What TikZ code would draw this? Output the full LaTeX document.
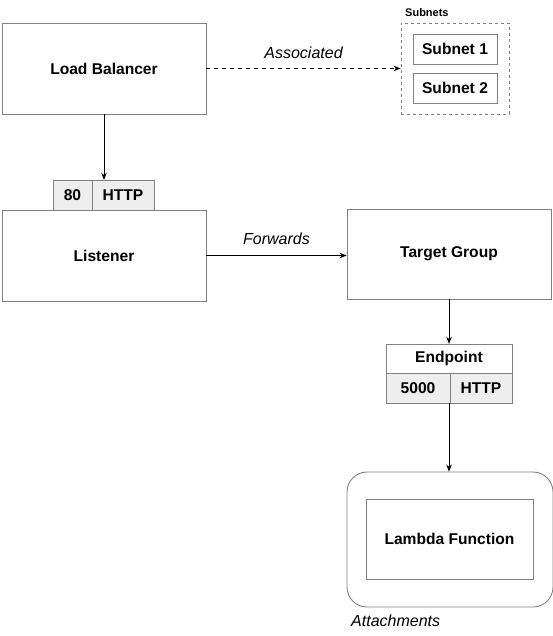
\documentclass[tikz,border=0pt]{standalone}
\usepackage{fontspec}
\setmainfont{Liberation Sans}
\usetikzlibrary{arrows.meta}
\definecolor{edge}{HTML}{808080}
\definecolor{cellfill}{HTML}{EEEEEE}
\tikzset{
  box/.style={draw=edge, line width=0.9pt, fill=white, inner sep=0pt, font=\fontsize{15.6}{18}\selectfont\bfseries},
  cell/.style={box, fill=cellfill},
  conn/.style={line width=0.9pt, -{Stealth[length=7pt,width=5.5pt]}},
  lbl/.style={font=\fontsize{16}{19}\selectfont\itshape},
}
\begin{document}
\begin{tikzpicture}[x=1pt,y=-1pt]
\useasboundingbox (0,0) rectangle (553,636);
% Load balancer
\node[box, minimum width=204pt, minimum height=91pt] (lb) at (104,68.5) {Load Balancer};
% Subnets group
\node[draw=edge, dashed, dash pattern=on 3pt off 3pt, line width=0.8pt, minimum width=108pt, minimum height=91pt, inner sep=0pt] (subnets) at (455,68.5) {};
\node[font=\fontsize{11}{13}\selectfont\bfseries, anchor=south west, inner sep=0pt] (subnetslbl) at (405,17) {Subnets};
\node[box, minimum width=84pt, minimum height=30pt] (s1) at (455,49) {Subnet 1};
\node[box, minimum width=84pt, minimum height=30pt] (s2) at (455,88) {Subnet 2};
% Listener with port header
\node[cell, minimum width=39pt, minimum height=30pt] (p80) at (72.5,195) {80};
\node[cell, minimum width=62pt, minimum height=30pt] (phttp) at (123,195) {HTTP};
\node[minimum width=101pt, minimum height=30pt, inner sep=0pt] (port) at (104,195) {};
\node[box, minimum width=204pt, minimum height=91pt] (lis) at (104,255.5) {Listener};
% Target group
\node[box, minimum width=204pt, minimum height=90pt] (tg) at (449,254) {Target Group};
% Endpoint
\node[box, minimum width=126pt, minimum height=29pt] (ep) at (449,358.5) {Endpoint};
\node[cell, minimum width=64pt, minimum height=30pt] (ep5000) at (418,388) {5000};
\node[cell, minimum width=62pt, minimum height=30pt] (ephttp) at (481,388) {HTTP};
\node[minimum width=126pt, minimum height=59pt, inner sep=0pt] (endpoint) at (449,373.5) {};
% Attachments
\node[draw=edge, line width=0.9pt, rounded corners=20pt, minimum width=206pt, minimum height=135pt, inner sep=0pt] (att) at (450,539.5) {};
\node[box, minimum width=167pt, minimum height=80pt] (lam) at (449.5,539) {Lambda Function};
\node[lbl, anchor=west, inner sep=0pt] (attlbl) at (351,621) {Attachments};
% Connectors
\draw[conn, dashed, dash pattern=on 4pt off 4pt] (lb.east) -- (subnets.west) node[lbl, midway, above=6pt] (assoc) {Associated};
\draw[conn] (lb.south) -- (port.north);
\draw[conn] (lis.east) -- (lis.east -| tg.west) node[lbl, midway, above=7pt] (fwd) {Forwards};
\draw[conn] (tg.south) -- (endpoint.north);
\draw[conn] (endpoint.south) -- (endpoint.south |- att.north);
\end{tikzpicture}
\end{document}
